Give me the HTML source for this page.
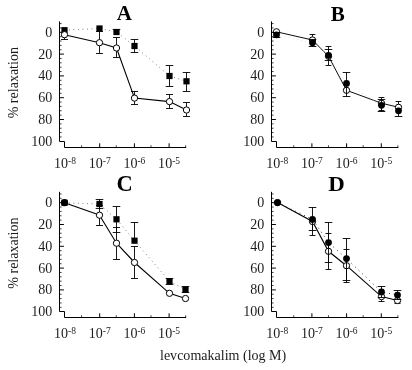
<!DOCTYPE html>
<html><head><meta charset="utf-8"><title>levcromakalim relaxation</title>
<style>
html,body{margin:0;padding:0;background:#fff;}
body{width:412px;height:370px;overflow:hidden;font-family:"Liberation Serif",serif;}
svg{display:block;}
#all{filter:blur(0.3px);}
.ax{fill:none;stroke:#000;stroke-width:1.0;}
.mt{fill:none;stroke:#000;stroke-width:0.75;}
.eb{fill:none;stroke:#000;stroke-width:0.9;}
.sl{fill:none;stroke:#000;stroke-width:1.1;}
.slb{fill:none;stroke:#000;stroke-width:0.95;}
.dl{fill:none;stroke:#666;stroke-width:0.9;stroke-dasharray:0.9 3.6;}
.dl2{fill:none;stroke:#ccc;stroke-width:0.8;stroke-dasharray:0.8 3.4;}
.dl3{fill:none;stroke:#333;stroke-width:1;stroke-dasharray:1 3.9;}
.t{font-family:"Liberation Serif",serif;font-size:13.7px;fill:#1c1c1c;}
.b{font-family:"Liberation Serif",serif;font-size:21px;font-weight:bold;fill:#000;}
</style></head><body>
<svg width="412" height="370" viewBox="0 0 412 370">
<rect width="412" height="370" fill="#fff"/>
<g id="all">
<path d="M59.50 21.40V141.50H64.50V147.50H186.16" class="ax"/>
<path d="M59.50 32.30h4.4M59.50 54.10h4.4M59.50 75.90h4.4M59.50 97.70h4.4M59.50 119.50h4.4" class="ax"/>
<path d="M59.50 23.58h2.1M59.50 27.94h2.1M59.50 36.66h2.1M59.50 41.02h2.1M59.50 45.38h2.1M59.50 49.74h2.1M59.50 58.46h2.1M59.50 62.82h2.1M59.50 67.18h2.1M59.50 71.54h2.1M59.50 80.26h2.1M59.50 84.62h2.1M59.50 88.98h2.1M59.50 93.34h2.1M59.50 102.06h2.1M59.50 106.42h2.1M59.50 110.78h2.1M59.50 115.14h2.1M59.50 123.86h2.1M59.50 128.22h2.1M59.50 132.58h2.1M59.50 136.94h2.1" class="mt"/>
<path d="M99.70 147.50v-4.2M134.40 147.50v-4.2M169.10 147.50v-4.2" class="ax"/>
<path d="M81.56 147.50v-2.2M116.26 147.50v-2.2M150.96 147.50v-2.2M185.66 147.50v-2.2" class="mt"/>
<text transform="translate(52.30 36.80) scale(1.025 1)" text-anchor="end" class="t">0</text>
<text transform="translate(52.30 58.60) scale(1.025 1)" text-anchor="end" class="t">20</text>
<text transform="translate(52.30 80.40) scale(1.025 1)" text-anchor="end" class="t">40</text>
<text transform="translate(52.30 102.20) scale(1.025 1)" text-anchor="end" class="t">60</text>
<text transform="translate(52.30 124.00) scale(1.025 1)" text-anchor="end" class="t">80</text>
<text transform="translate(52.30 145.80) scale(1.025 1)" text-anchor="end" class="t">100</text>
<text transform="translate(65.00 168.10) scale(1.025 1)" text-anchor="middle" class="t">10<tspan dy="-4.3" font-size="9.3">-8</tspan></text>
<text transform="translate(99.70 168.10) scale(1.025 1)" text-anchor="middle" class="t">10<tspan dy="-4.3" font-size="9.3">-7</tspan></text>
<text transform="translate(134.40 168.10) scale(1.025 1)" text-anchor="middle" class="t">10<tspan dy="-4.3" font-size="9.3">-6</tspan></text>
<text transform="translate(169.10 168.10) scale(1.025 1)" text-anchor="middle" class="t">10<tspan dy="-4.3" font-size="9.3">-5</tspan></text>
<path d="M271.50 21.40V141.50H276.50V147.50H398.36" class="ax"/>
<path d="M271.50 32.30h4.4M271.50 54.10h4.4M271.50 75.90h4.4M271.50 97.70h4.4M271.50 119.50h4.4" class="ax"/>
<path d="M271.50 23.58h2.1M271.50 27.94h2.1M271.50 36.66h2.1M271.50 41.02h2.1M271.50 45.38h2.1M271.50 49.74h2.1M271.50 58.46h2.1M271.50 62.82h2.1M271.50 67.18h2.1M271.50 71.54h2.1M271.50 80.26h2.1M271.50 84.62h2.1M271.50 88.98h2.1M271.50 93.34h2.1M271.50 102.06h2.1M271.50 106.42h2.1M271.50 110.78h2.1M271.50 115.14h2.1M271.50 123.86h2.1M271.50 128.22h2.1M271.50 132.58h2.1M271.50 136.94h2.1" class="mt"/>
<path d="M311.90 147.50v-4.2M346.60 147.50v-4.2M381.30 147.50v-4.2" class="ax"/>
<path d="M293.76 147.50v-2.2M328.46 147.50v-2.2M363.16 147.50v-2.2M397.86 147.50v-2.2" class="mt"/>
<text transform="translate(264.30 36.80) scale(1.025 1)" text-anchor="end" class="t">0</text>
<text transform="translate(264.30 58.60) scale(1.025 1)" text-anchor="end" class="t">20</text>
<text transform="translate(264.30 80.40) scale(1.025 1)" text-anchor="end" class="t">40</text>
<text transform="translate(264.30 102.20) scale(1.025 1)" text-anchor="end" class="t">60</text>
<text transform="translate(264.30 124.00) scale(1.025 1)" text-anchor="end" class="t">80</text>
<text transform="translate(264.30 145.80) scale(1.025 1)" text-anchor="end" class="t">100</text>
<text transform="translate(277.20 168.10) scale(1.025 1)" text-anchor="middle" class="t">10<tspan dy="-4.3" font-size="9.3">-8</tspan></text>
<text transform="translate(311.90 168.10) scale(1.025 1)" text-anchor="middle" class="t">10<tspan dy="-4.3" font-size="9.3">-7</tspan></text>
<text transform="translate(346.60 168.10) scale(1.025 1)" text-anchor="middle" class="t">10<tspan dy="-4.3" font-size="9.3">-6</tspan></text>
<text transform="translate(381.30 168.10) scale(1.025 1)" text-anchor="middle" class="t">10<tspan dy="-4.3" font-size="9.3">-5</tspan></text>
<path d="M59.50 191.80V311.50H64.50V317.50H186.16" class="ax"/>
<path d="M59.50 202.70h4.4M59.50 224.50h4.4M59.50 246.30h4.4M59.50 268.10h4.4M59.50 289.90h4.4" class="ax"/>
<path d="M59.50 193.98h2.1M59.50 198.34h2.1M59.50 207.06h2.1M59.50 211.42h2.1M59.50 215.78h2.1M59.50 220.14h2.1M59.50 228.86h2.1M59.50 233.22h2.1M59.50 237.58h2.1M59.50 241.94h2.1M59.50 250.66h2.1M59.50 255.02h2.1M59.50 259.38h2.1M59.50 263.74h2.1M59.50 272.46h2.1M59.50 276.82h2.1M59.50 281.18h2.1M59.50 285.54h2.1M59.50 294.26h2.1M59.50 298.62h2.1M59.50 302.98h2.1M59.50 307.34h2.1" class="mt"/>
<path d="M99.70 317.50v-4.2M134.40 317.50v-4.2M169.10 317.50v-4.2" class="ax"/>
<path d="M81.56 317.50v-2.2M116.26 317.50v-2.2M150.96 317.50v-2.2M185.66 317.50v-2.2" class="mt"/>
<text transform="translate(52.30 207.20) scale(1.025 1)" text-anchor="end" class="t">0</text>
<text transform="translate(52.30 229.00) scale(1.025 1)" text-anchor="end" class="t">20</text>
<text transform="translate(52.30 250.80) scale(1.025 1)" text-anchor="end" class="t">40</text>
<text transform="translate(52.30 272.60) scale(1.025 1)" text-anchor="end" class="t">60</text>
<text transform="translate(52.30 294.40) scale(1.025 1)" text-anchor="end" class="t">80</text>
<text transform="translate(52.30 316.20) scale(1.025 1)" text-anchor="end" class="t">100</text>
<text transform="translate(65.00 338.10) scale(1.025 1)" text-anchor="middle" class="t">10<tspan dy="-4.3" font-size="9.3">-8</tspan></text>
<text transform="translate(99.70 338.10) scale(1.025 1)" text-anchor="middle" class="t">10<tspan dy="-4.3" font-size="9.3">-7</tspan></text>
<text transform="translate(134.40 338.10) scale(1.025 1)" text-anchor="middle" class="t">10<tspan dy="-4.3" font-size="9.3">-6</tspan></text>
<text transform="translate(169.10 338.10) scale(1.025 1)" text-anchor="middle" class="t">10<tspan dy="-4.3" font-size="9.3">-5</tspan></text>
<path d="M271.50 191.80V311.50H276.50V317.50H398.36" class="ax"/>
<path d="M271.50 202.70h4.4M271.50 224.50h4.4M271.50 246.30h4.4M271.50 268.10h4.4M271.50 289.90h4.4" class="ax"/>
<path d="M271.50 193.98h2.1M271.50 198.34h2.1M271.50 207.06h2.1M271.50 211.42h2.1M271.50 215.78h2.1M271.50 220.14h2.1M271.50 228.86h2.1M271.50 233.22h2.1M271.50 237.58h2.1M271.50 241.94h2.1M271.50 250.66h2.1M271.50 255.02h2.1M271.50 259.38h2.1M271.50 263.74h2.1M271.50 272.46h2.1M271.50 276.82h2.1M271.50 281.18h2.1M271.50 285.54h2.1M271.50 294.26h2.1M271.50 298.62h2.1M271.50 302.98h2.1M271.50 307.34h2.1" class="mt"/>
<path d="M311.90 317.50v-4.2M346.60 317.50v-4.2M381.30 317.50v-4.2" class="ax"/>
<path d="M293.76 317.50v-2.2M328.46 317.50v-2.2M363.16 317.50v-2.2M397.86 317.50v-2.2" class="mt"/>
<text transform="translate(264.30 207.20) scale(1.025 1)" text-anchor="end" class="t">0</text>
<text transform="translate(264.30 229.00) scale(1.025 1)" text-anchor="end" class="t">20</text>
<text transform="translate(264.30 250.80) scale(1.025 1)" text-anchor="end" class="t">40</text>
<text transform="translate(264.30 272.60) scale(1.025 1)" text-anchor="end" class="t">60</text>
<text transform="translate(264.30 294.40) scale(1.025 1)" text-anchor="end" class="t">80</text>
<text transform="translate(264.30 316.20) scale(1.025 1)" text-anchor="end" class="t">100</text>
<text transform="translate(277.20 338.10) scale(1.025 1)" text-anchor="middle" class="t">10<tspan dy="-4.3" font-size="9.3">-8</tspan></text>
<text transform="translate(311.90 338.10) scale(1.025 1)" text-anchor="middle" class="t">10<tspan dy="-4.3" font-size="9.3">-7</tspan></text>
<text transform="translate(346.60 338.10) scale(1.025 1)" text-anchor="middle" class="t">10<tspan dy="-4.3" font-size="9.3">-6</tspan></text>
<text transform="translate(381.30 338.10) scale(1.025 1)" text-anchor="middle" class="t">10<tspan dy="-4.3" font-size="9.3">-5</tspan></text>
<text x="124.3" y="20.4" text-anchor="middle" class="b">A</text>
<text x="337.8" y="20.7" text-anchor="middle" class="b">B</text>
<text transform="translate(124.5 191.0) scale(1.07 1.06)" text-anchor="middle" class="b">C</text>
<text transform="translate(336.6 190.8) scale(1.09 1.04)" text-anchor="middle" class="b">D</text>
<text transform="translate(17.8 82.7) rotate(-90) scale(1.025 1)" text-anchor="middle" class="t">% relaxation</text>
<text transform="translate(17.8 253.1) rotate(-90) scale(1.025 1)" text-anchor="middle" class="t">% relaxation</text>
<text transform="translate(160.0 359.8) scale(1.025 1)" class="t">levcomakalim (log M)</text>
<path d="M64.50 30.20L99.50 28.50L116.50 32.00L134.50 46.00L169.50 76.00L186.50 81.30" class="dl"/>
<path d="M116.50 29.50V32.00M112.70 29.50h7.6M134.50 39.50V52.50M130.70 39.50h7.6M130.70 52.50h7.6M169.50 65.50V86.50M165.70 65.50h7.6M165.70 86.50h7.6M186.50 72.50V91.50M182.70 72.50h7.6M182.70 91.50h7.6" class="eb"/>
<rect x="61.40" y="27.10" width="6.2" height="6.2" fill="#000"/>
<rect x="96.40" y="25.40" width="6.2" height="6.2" fill="#000"/>
<rect x="113.40" y="28.90" width="6.2" height="6.2" fill="#000"/>
<rect x="131.40" y="42.90" width="6.2" height="6.2" fill="#000"/>
<rect x="166.40" y="72.90" width="6.2" height="6.2" fill="#000"/>
<rect x="183.40" y="78.20" width="6.2" height="6.2" fill="#000"/>
<path d="M64.50 34.70L99.50 42.70L116.50 48.00L134.50 98.10L169.50 101.60L186.50 110.00" class="sl"/>
<path d="M64.50 34.70V39.50M61.00 39.50h7.0M99.50 31.50V53.50M96.00 31.50h7.0M96.00 53.50h7.0M116.50 37.50V57.50M113.00 37.50h7.0M113.00 57.50h7.0M134.50 91.50V104.50M131.00 91.50h7.0M131.00 104.50h7.0M169.50 94.50V108.50M166.00 94.50h7.0M166.00 108.50h7.0M186.50 102.50V116.50M183.00 102.50h7.0M183.00 116.50h7.0" class="eb"/>
<circle cx="64.50" cy="34.70" r="3.15" fill="#fff" stroke="#000" stroke-width="1"/>
<circle cx="99.50" cy="42.70" r="3.15" fill="#fff" stroke="#000" stroke-width="1"/>
<circle cx="116.50" cy="48.00" r="3.15" fill="#fff" stroke="#000" stroke-width="1"/>
<circle cx="134.50" cy="98.10" r="3.15" fill="#fff" stroke="#000" stroke-width="1"/>
<circle cx="169.50" cy="101.60" r="3.15" fill="#fff" stroke="#000" stroke-width="1"/>
<circle cx="186.50" cy="110.00" r="3.15" fill="#fff" stroke="#000" stroke-width="1"/>
<path d="M276.50 31.80L312.50 40.00L328.50 56.30L346.50 90.30L381.50 103.20L398.50 107.30" class="slb"/>
<path d="M312.50 34.50V40.00M309.60 34.50h5.8M328.50 46.50V65.50M325.60 46.50h5.8M325.60 65.50h5.8M381.50 97.50V110.50M378.60 97.50h5.8M378.60 110.50h5.8M398.50 101.50V107.30M395.60 101.50h5.8" class="eb"/>
<circle cx="276.50" cy="31.80" r="3.15" fill="#fff" stroke="#000" stroke-width="1"/>
<circle cx="312.50" cy="40.00" r="3.15" fill="#fff" stroke="#000" stroke-width="1"/>
<circle cx="328.50" cy="56.30" r="3.15" fill="#fff" stroke="#000" stroke-width="1"/>
<circle cx="346.50" cy="90.30" r="3.15" fill="#fff" stroke="#000" stroke-width="1"/>
<circle cx="381.50" cy="103.20" r="3.15" fill="#fff" stroke="#000" stroke-width="1"/>
<circle cx="398.50" cy="107.30" r="3.15" fill="#fff" stroke="#000" stroke-width="1"/>
<path d="M276.50 34.80L312.50 42.80L328.50 55.30L346.50 83.40L381.50 105.30L398.50 110.80" class="dl2"/>
<path d="M276.50 32.50V37.50M272.70 32.50h7.6M272.70 37.50h7.6M312.50 39.50V46.50M308.70 39.50h7.6M308.70 46.50h7.6M328.50 49.50V60.50M324.70 49.50h7.6M324.70 60.50h7.6M346.50 72.50V96.50M342.70 72.50h7.6M342.70 96.50h7.6M381.50 99.50V111.50M377.70 99.50h7.6M377.70 111.50h7.6M398.50 110.80V116.50M394.70 116.50h7.6" class="eb"/>
<circle cx="276.50" cy="34.80" r="3.4" fill="#000"/>
<circle cx="312.50" cy="42.80" r="3.4" fill="#000"/>
<circle cx="328.50" cy="55.30" r="3.4" fill="#000"/>
<circle cx="346.50" cy="83.40" r="3.4" fill="#000"/>
<circle cx="381.50" cy="105.30" r="3.4" fill="#000"/>
<circle cx="398.50" cy="110.80" r="3.4" fill="#000"/>
<circle cx="64.5" cy="202.6" r="3.6" fill="#000"/>
<path d="M64.50 202.80L99.50 204.00L116.50 219.30L134.50 240.70L169.50 281.20L185.50 289.80" class="dl"/>
<path d="M99.50 199.50V208.50M95.70 199.50h7.6M95.70 208.50h7.6M116.50 206.50V232.50M112.70 206.50h7.6M112.70 232.50h7.6M134.50 222.50V240.70M130.70 222.50h7.6M169.50 278.50V284.50M165.70 278.50h7.6M165.70 284.50h7.6M185.50 286.50V292.50M181.70 286.50h7.6M181.70 292.50h7.6" class="eb"/>
<rect x="61.40" y="199.70" width="6.2" height="6.2" fill="#000"/>
<rect x="96.40" y="200.90" width="6.2" height="6.2" fill="#000"/>
<rect x="113.40" y="216.20" width="6.2" height="6.2" fill="#000"/>
<rect x="131.40" y="237.60" width="6.2" height="6.2" fill="#000"/>
<rect x="166.40" y="278.10" width="6.2" height="6.2" fill="#000"/>
<rect x="182.40" y="286.70" width="6.2" height="6.2" fill="#000"/>
<path d="M99.50 215.20L116.50 243.20L134.50 262.50L169.50 293.30L185.50 298.50" class="sl"/>
<path d="M99.50 205.50V225.50M96.00 205.50h7.0M96.00 225.50h7.0M116.50 227.50V259.50M113.00 227.50h7.0M113.00 259.50h7.0M134.50 246.50V278.50M131.00 246.50h7.0M131.00 278.50h7.0" class="eb"/>
<circle cx="99.50" cy="215.20" r="3.15" fill="#fff" stroke="#000" stroke-width="1"/>
<circle cx="116.50" cy="243.20" r="3.15" fill="#fff" stroke="#000" stroke-width="1"/>
<circle cx="134.50" cy="262.50" r="3.15" fill="#fff" stroke="#000" stroke-width="1"/>
<circle cx="169.50" cy="293.30" r="3.15" fill="#fff" stroke="#000" stroke-width="1"/>
<circle cx="185.50" cy="298.50" r="3.15" fill="#fff" stroke="#000" stroke-width="1"/>
<path d="M64.5 202.8L96.50 214.10" class="sl"/>
<path d="M277.50 202.60L312.50 221.50L328.50 251.30L346.50 265.70L381.50 296.60L397.50 300.50" class="sl"/>
<path d="M312.50 221.50V235.50M309.50 235.50h6.0M328.50 233.50V269.50M325.50 233.50h6.0M325.50 269.50h6.0M346.50 249.50V282.50M343.50 249.50h6.0M343.50 282.50h6.0M381.50 296.60V301.50M378.50 301.50h6.0M397.50 300.50V303.50M394.50 303.50h6.0" class="eb"/>
<circle cx="277.50" cy="202.60" r="3.15" fill="#fff" stroke="#000" stroke-width="1"/>
<circle cx="312.50" cy="221.50" r="3.15" fill="#fff" stroke="#000" stroke-width="1"/>
<circle cx="328.50" cy="251.30" r="3.15" fill="#fff" stroke="#000" stroke-width="1"/>
<circle cx="346.50" cy="265.70" r="3.15" fill="#fff" stroke="#000" stroke-width="1"/>
<circle cx="381.50" cy="296.60" r="3.15" fill="#fff" stroke="#000" stroke-width="1"/>
<circle cx="397.50" cy="300.50" r="3.15" fill="#fff" stroke="#000" stroke-width="1"/>
<path d="M277.50 202.60L312.50 219.40L328.50 242.60L346.50 258.60L381.50 291.90L397.50 295.10" class="dl3"/>
<path d="M312.50 207.50V230.50M308.70 207.50h7.6M308.70 230.50h7.6M328.50 222.50V262.50M324.70 222.50h7.6M324.70 262.50h7.6M346.50 238.50V280.50M342.70 238.50h7.6M342.70 280.50h7.6M381.50 286.50V297.50M377.70 286.50h7.6M377.70 297.50h7.6M397.50 290.50V299.50M393.70 290.50h7.6M393.70 299.50h7.6" class="eb"/>
<circle cx="277.50" cy="202.60" r="3.4" fill="#000"/>
<circle cx="312.50" cy="219.40" r="3.4" fill="#000"/>
<circle cx="328.50" cy="242.60" r="3.4" fill="#000"/>
<circle cx="346.50" cy="258.60" r="3.4" fill="#000"/>
<circle cx="381.50" cy="291.90" r="3.4" fill="#000"/>
<circle cx="397.50" cy="295.10" r="3.4" fill="#000"/>
</g></svg></body></html>
